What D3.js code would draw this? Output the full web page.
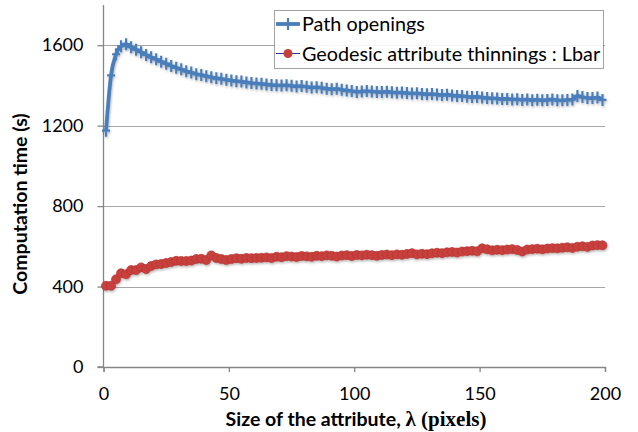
<!DOCTYPE html>
<html>
<head>
<meta charset="utf-8">
<script src="https://cdn.jsdelivr.net/npm/d3@7"></script>
<style>
  body { margin: 0; background: #fff; }
  svg { display: block; font-family: Lato, "Open Sans", sans-serif; }
</style>
</head>
<body>
<div id="chart"></div>
<script>
// attribute sizes (lambda, pixels)
const lambdas = d3.range(1, 200, 2);

// Path openings computation time (s)
const pathOpenings = [
  1175, 1450, 1555, 1595, 1605, 1590, 1578, 1565, 1552, 1540,
  1530, 1518, 1508, 1497, 1488, 1480, 1470, 1464, 1456, 1452,
  1446, 1441, 1436, 1433, 1428, 1425, 1421, 1419, 1415, 1412,
  1410, 1408, 1405, 1402, 1401, 1400, 1401, 1398, 1395, 1397,
  1393, 1390, 1391, 1388, 1384, 1381, 1383, 1378, 1375, 1372,
  1368, 1370, 1372, 1370, 1368, 1367, 1369, 1366, 1364, 1365,
  1362, 1360, 1361, 1358, 1356, 1357, 1355, 1352, 1354, 1350,
  1348, 1347, 1344, 1342, 1343, 1340, 1338, 1336, 1335, 1332,
  1333, 1330, 1331, 1328, 1330, 1327, 1329, 1326, 1328, 1330,
  1327, 1326, 1328, 1330, 1348, 1342, 1338, 1337, 1340, 1328
];

// Geodesic attribute thinnings : Lbar computation time (s)
const geodesicThinnings = [
  404, 404, 436, 466, 461, 482, 482, 495, 487, 502,
  510, 512, 517, 522, 528, 527, 527, 529, 537, 538,
  532, 555, 542, 537, 532, 537, 541, 538, 542, 541,
  542, 543, 545, 542, 548, 546, 551, 549, 547, 552,
  550, 548, 553, 551, 555, 553, 549, 554, 556, 552,
  557, 555, 558, 556, 553, 557, 559, 556, 560, 558,
  562, 566, 560, 563, 561, 565, 568, 566, 570, 572,
  569, 574, 576, 578, 575, 590, 585, 580, 583, 581,
  584, 586, 582, 574, 584, 586, 588, 585, 589, 591,
  590, 593, 595, 592, 598, 600, 597, 604, 606, 605
];

const seriesNames = ["Path openings", "Geodesic attribute thinnings : Lbar"];
const xTicks = [0, 50, 100, 150, 200];
const yTicks = [0, 400, 800, 1200, 1600];

const W = 638, H = 432;
const plotLeft = 103.5, plotRight = 605, plotTop = 5, plotBottom = 367;

const svg = d3.select("#chart").append("svg")
  .attr("width", W)
  .attr("height", H);

const defs = svg.append("defs");
const shadow = defs.append("filter").attr("id", "shadow")
  .attr("x", "-10%").attr("y", "-10%").attr("width", "120%").attr("height", "130%");
shadow.append("feDropShadow")
  .attr("dx", 0.8).attr("dy", 1.5).attr("stdDeviation", 1)
  .attr("flood-color", "#000").attr("flood-opacity", 0.28);

const x = d3.scaleLinear().domain([0, 200]).range([plotLeft, plotRight]);
const y = d3.scaleLinear().domain([0, 1800]).range([plotBottom, plotTop]);

// gridlines
svg.append("g")
  .selectAll("line")
  .data(yTicks.filter(d => d > 0))
  .join("line")
  .attr("x1", plotLeft).attr("x2", plotRight)
  .attr("y1", d => Math.round(y(d)) + 0.5).attr("y2", d => Math.round(y(d)) + 0.5)
  .attr("stroke", "#a6a6a6").attr("stroke-width", 1);

// axes
const yAxis = svg.append("g")
  .attr("transform", `translate(${plotLeft},0)`)
  .call(d3.axisLeft(y).tickValues(yTicks).tickFormat(d3.format("d")).tickSize(6).tickPadding(14));
const xAxis = svg.append("g")
  .attr("transform", `translate(0,${plotBottom})`)
  .call(d3.axisBottom(x).tickValues(xTicks).tickFormat(d3.format("d")).tickSize(5).tickPadding(15));

[xAxis, yAxis].forEach(g => {
  g.select(".domain").attr("stroke", "#868686").attr("stroke-width", 1.3);
  g.selectAll(".tick line").attr("stroke", "#868686").attr("stroke-width", 1.3);
  g.selectAll(".tick text")
    .attr("fill", "#000")
    .style("font-size", "18px")
    .style("font-family", "Lato, sans-serif");
});
yAxis.select(".domain").attr("d", `M-6,${plotBottom}H0V${plotTop}`);

// series data
const pathData = lambdas.map((l, i) => [l, pathOpenings[i]]);
const geoData = lambdas.map((l, i) => [l, geodesicThinnings[i]]);
const line = d3.line().x(d => x(d[0])).y(d => y(d[1])).curve(d3.curveMonotoneX);

const blue = "#4a7ebb";
const red = "#c8403c";
const plusPath = "M-4,0H4M0,-6V6";

// geodesic thinnings (red circles)
const gGeo = svg.append("g").attr("filter", "url(#shadow)");
gGeo.append("path")
  .datum(geoData)
  .attr("d", line)
  .attr("fill", "none")
  .attr("stroke", "#2e3a87")
  .attr("stroke-width", 1);
gGeo.selectAll("circle")
  .data(geoData)
  .join("circle")
  .attr("cx", d => x(d[0]))
  .attr("cy", d => y(d[1]))
  .attr("r", 4.5)
  .attr("fill", red)
  .attr("stroke", "#b33330")
  .attr("stroke-width", 0.7);

// path openings (blue line with + markers)
const gPath = svg.append("g").attr("filter", "url(#shadow)");
gPath.append("path")
  .datum(pathData)
  .attr("d", line)
  .attr("fill", "none")
  .attr("stroke", blue)
  .attr("stroke-width", 3.8)
  .attr("stroke-linejoin", "round");
gPath.selectAll(".mk")
  .data(pathData)
  .join("path")
  .attr("class", "mk")
  .attr("transform", d => `translate(${x(d[0])},${y(d[1])})`)
  .attr("d", plusPath)
  .attr("stroke", blue)
  .attr("stroke-width", 2.2);

// axis titles
svg.append("text")
  .attr("transform", `translate(27,${(plotTop + plotBottom) / 2 + 18}) rotate(-90)`)
  .attr("text-anchor", "middle")
  .style("font-size", "19.5px")
  .style("font-weight", "bold")
  .text("Computation time (s)");

const xTitle = svg.append("text")
  .attr("x", 356)
  .attr("y", 426)
  .attr("text-anchor", "middle")
  .style("font-size", "19.5px")
  .style("font-weight", "bold");
xTitle.append("tspan").text("Size of the attribute, ");
xTitle.append("tspan")
  .style("font-family", "'Liberation Serif', serif")
  .style("font-size", "21px")
  .text("λ (pixels)");

// legend
const legend = svg.append("g");
legend.append("rect")
  .attr("x", 274.5).attr("y", 10.5)
  .attr("width", 329).attr("height", 58)
  .attr("fill", "#fff").attr("fill-opacity", 0.9)
  .attr("stroke", "#444").attr("stroke-width", 1)
  .attr("stroke-dasharray", "1,1");

const rows = legend.selectAll(".row")
  .data(seriesNames)
  .join("g")
  .attr("class", "row")
  .attr("transform", (d, i) => `translate(0,${i === 0 ? 24 : 53.5})`);

rows.append("line")
  .attr("x1", 276).attr("x2", 300)
  .attr("stroke", (d, i) => i === 0 ? blue : "#2e3a87")
  .attr("stroke-width", (d, i) => i === 0 ? 3.8 : 1);
rows.filter((d, i) => i === 0).append("path")
  .attr("transform", "translate(288,0)")
  .attr("d", plusPath)
  .attr("stroke", blue)
  .attr("stroke-width", 2.2);
rows.filter((d, i) => i === 1).append("circle")
  .attr("cx", 288).attr("r", 4.5)
  .attr("fill", red);
rows.append("text")
  .attr("x", 302)
  .attr("y", 7)
  .style("font-size", "19.8px")
  .text(d => d);
</script>
</body>
</html>
